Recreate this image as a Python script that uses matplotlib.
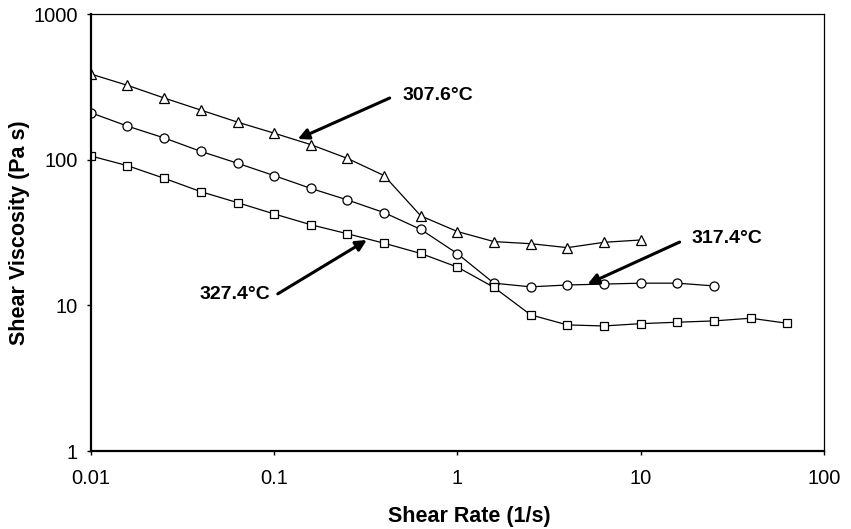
import numpy as np
import matplotlib
matplotlib.use('Agg')
import matplotlib.pyplot as plt
from matplotlib.ticker import FixedLocator, FixedFormatter, NullLocator

plt.rcParams['font.family'] = ['Liberation Sans', 'DejaVu Sans']

# Shear rate grid (1/s), 5 points per decade
rate = [0.01, 0.0158, 0.0251, 0.0398, 0.0631, 0.1, 0.158, 0.251, 0.398, 0.631,
        1.0, 1.58, 2.51, 3.98, 6.31, 10.0, 15.8, 25.1, 39.8, 63.1]

# Shear viscosity (Pa s)
visc_3076 = [387, 324, 265, 219, 181, 152, 127, 102, 77.7, 41.1,
             32.1, 27.4, 26.5, 24.9, 27.1, 28.1]
visc_3174 = [210, 170, 141, 114, 94.5, 77.7, 63.6, 52.9, 43.3, 33.2,
             22.6, 14.2, 13.4, 13.8, 14.0, 14.2, 14.2, 13.6]
visc_3274 = [106, 91, 74.5, 60.3, 50.7, 42.4, 35.8, 31.0, 26.7, 22.7,
             18.3, 13.3, 8.6, 7.34, 7.22, 7.49, 7.66, 7.82, 8.16, 7.53]

xticks = [0.01, 0.1, 1, 10, 100]
xlabels = ['0.01', '0.1', '1', '10', '100']
yticks = [1, 10, 100, 1000]
ylabels = ['1', '10', '100', '1000']

fig = plt.figure(figsize=(8.51, 5.29), dpi=100)
ax = fig.add_axes([0.1069, 0.1474, 0.8614, 0.8261])

mk = dict(color='k', lw=0.9, markerfacecolor='white',
          markeredgecolor='k', markeredgewidth=0.9)
ax.plot(rate[:len(visc_3076)], visc_3076, marker='^', markersize=6.5, **mk)
ax.plot(rate[:len(visc_3174)], visc_3174, marker='o', markersize=6.5, **mk)
ax.plot(rate[:len(visc_3274)], visc_3274, marker='s', markersize=6, **mk)

ax.set_xscale('log')
ax.set_yscale('log')
ax.set_xlim(0.01, 100)
ax.set_ylim(1, 1000)

ax.xaxis.set_major_locator(FixedLocator(xticks))
ax.xaxis.set_major_formatter(FixedFormatter(xlabels))
ax.yaxis.set_major_locator(FixedLocator(yticks))
ax.yaxis.set_major_formatter(FixedFormatter(ylabels))
ax.xaxis.set_minor_locator(NullLocator())
ax.yaxis.set_minor_locator(NullLocator())
ax.tick_params(direction='out', length=3, width=1, labelsize=14.5)
ax.tick_params(axis='x', pad=10)
ax.tick_params(axis='y', pad=6.5)

# Spines: thick left/bottom, thin top/right
ax.spines['left'].set_linewidth(1.6)
ax.spines['bottom'].set_linewidth(1.6)
ax.spines['top'].set_linewidth(0.9)
ax.spines['right'].set_linewidth(0.9)

ax.set_xlabel('Shear Rate (1/s)', fontsize=15.5, fontweight='bold')
ax.xaxis.set_label_coords(0.516, -0.125)
ax.set_ylabel('Shear Viscosity (Pa s)', fontsize=15.5, fontweight='bold', labelpad=2)

# Annotations
arw = dict(arrowstyle='-|>', color='k', lw=2.2, mutation_scale=16,
           shrinkA=0, shrinkB=0)
ax.annotate('', xy=(0.1345, 138.7), xytext=(0.4266, 265), arrowprops=arw)
ax.text(0.50, 278, '307.6°C', fontsize=14, fontweight='bold', va='center', ha='left')

ax.annotate('', xy=(5.13, 14.0), xytext=(16.3, 27.2), arrowprops=arw)
ax.text(18.9, 28.6, '317.4°C', fontsize=14, fontweight='bold', va='center', ha='left')

ax.annotate('', xy=(0.320, 28.1), xytext=(0.1046, 12.0), arrowprops=arw)
ax.text(0.0946, 11.8, '327.4°C', fontsize=14, fontweight='bold', va='center', ha='right')

plt.savefig('out.png', dpi=100)
